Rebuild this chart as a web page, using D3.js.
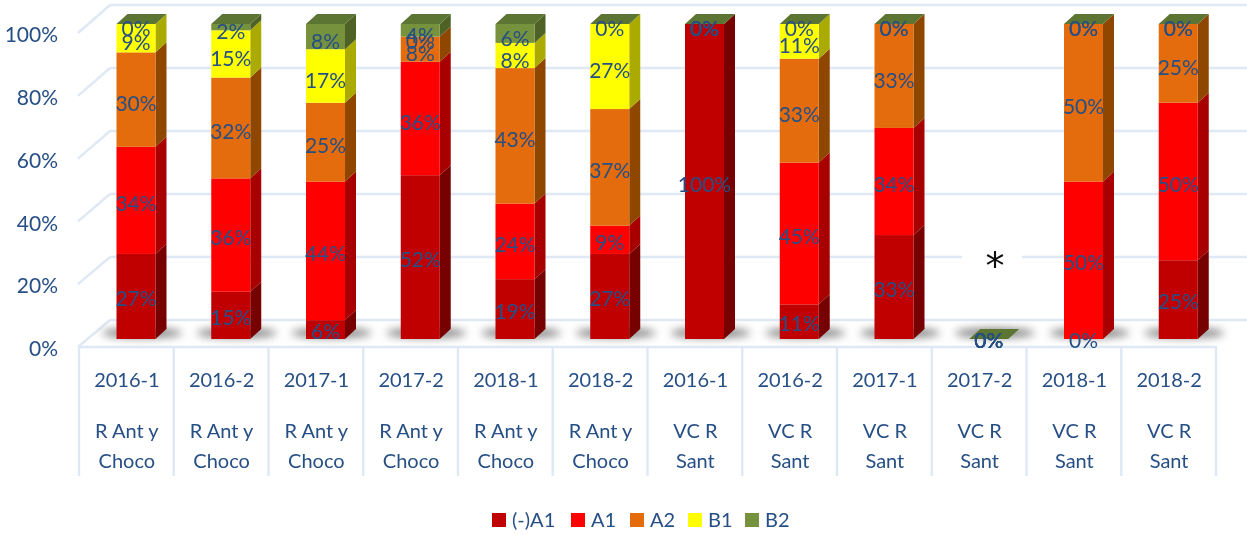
<!DOCTYPE html>
<html><head><meta charset="utf-8">
<script src="https://cdn.jsdelivr.net/npm/d3@7"></script>
<style>html,body{margin:0;background:#fff}svg{display:block}text{font-family:Lato,"Open Sans",sans-serif;fill:#264f85}</style>
</head><body><svg id="c" width="1247" height="535"></svg>
<script>
const periods=["2016-1","2016-2","2017-1","2017-2","2018-1","2018-2","2016-1","2016-2","2017-1","2017-2","2018-1","2018-2"];
const groups=["R Ant y|Choco","R Ant y|Choco","R Ant y|Choco","R Ant y|Choco","R Ant y|Choco","R Ant y|Choco","VC R|Sant","VC R|Sant","VC R|Sant","VC R|Sant","VC R|Sant","VC R|Sant"];
const seriesNames=["(-)A1","A1","A2","B1","B2"];
const negA1=[27,15,6,52,19,27,100,11,33,0,0,25];
const A1=[34,36,44,36,24,9,0,45,34,0,50,50];
const A2=[30,32,25,8,43,37,0,33,33,0,50,25];
const B1=[9,15,17,0,8,27,0,11,0,0,0,0];
const B2=[0,2,8,4,6,0,0,0,0,0,0,0];
const frontColors=["#c00000","#ff0000","#e46c0a","#ffff00","#76923c"];
const sideColors=["#770000","#a80000","#8f4606","#aaaa00","#4f6228"];
const topColor="#5c7431";
const yTicks=[0,20,40,60,80,100];

const svg=d3.select("#c");
const defs=svg.append("defs");
defs.append("filter").attr("id","soft").attr("filterUnits","userSpaceOnUse").attr("x",0).attr("y",0).attr("width",1247).attr("height",535)
  .append("feGaussianBlur").attr("stdDeviation",0.6);
defs.append("filter").attr("id","shade").attr("filterUnits","userSpaceOnUse").attr("x",0).attr("y",300).attr("width",1247).attr("height",70)
  .append("feGaussianBlur").attr("stdDeviation",4);
const root=svg.append("g").attr("filter","url(#soft)");

const idx=periods.map((_,i)=>i);
const x=d3.scaleBand().domain(idx).range([79,1216]);
const yAxisScale=d3.scaleLinear().domain([0,100]).range([347,33]);
const yBar=d3.scaleLinear().domain([0,100]).range([339,24]);
const yBack=d3.scaleLinear().domain([0,100]).range([320,5]);
const yLabel=d3.scaleLinear().domain([0,100]).range([343,31]);
const barW=39,dx=11,dy=10,barOff=37.5;
const grid="#dfe8f5";

// walls
const g=root.append("g").attr("fill","none").attr("stroke",grid).attr("stroke-width",2.4);
yTicks.forEach(t=>{
  g.append("line").attr("x1",110).attr("x2",1247).attr("y1",yBack(t)).attr("y2",yBack(t));
  g.append("line").attr("x1",78).attr("x2",110).attr("y1",yAxisScale(t)).attr("y2",yBack(t));
});
g.append("line").attr("x1",79).attr("x2",1217).attr("y1",347).attr("y2",347);
idx.concat([12]).forEach(i=>{
  const px=i<12?x(i):x.range()[1];
  g.append("line").attr("x1",px).attr("x2",px).attr("y1",347).attr("y2",476);
});

// y axis
const axis=d3.axisLeft(yAxisScale).tickValues(yTicks).tickFormat(d=>d+"%").tickSize(0).tickPadding(0);
const ax=root.append("g").attr("transform","translate(58,2)").call(axis);
ax.select(".domain").remove();
ax.selectAll("text").style("font-size","21px").style("font-family",'Lato,"Open Sans",sans-serif');

// floor shadows
root.append("g").attr("filter","url(#shade)").selectAll("ellipse").data(idx).join("ellipse")
  .attr("cx",i=>x(i)+barOff+barW/2+6).attr("cy",333).attr("rx",40).attr("ry",5)
  .attr("fill","#808080");

// asterisk mask
root.append("rect").attr("x",962).attr("y",250).attr("width",60).attr("height",20).attr("fill","#fff");

// bars
const rows=idx.map(i=>({i,"(-)A1":negA1[i],"A1":A1[i],"A2":A2[i],"B1":B1[i],"B2":B2[i]}));
const stacked=d3.stack().keys(seriesNames)(rows);
const bars=root.append("g");
stacked.forEach((s,k)=>{
  const sg=bars.append("g");
  sg.selectAll("path").data(s.filter(d=>d[1]>d[0])).join("path")
    .attr("d",d=>{const l=x(d.data.i)+barOff+barW,a=yBar(d[1]),b=yBar(d[0]);
      return `M${l},${a}L${l+dx},${a-dy}L${l+dx},${b-dy}L${l},${b}Z`;})
    .attr("fill",sideColors[k]);
  sg.selectAll("rect").data(s.filter(d=>d[1]>d[0])).join("rect")
    .attr("x",d=>x(d.data.i)+barOff).attr("width",barW)
    .attr("y",d=>yBar(d[1])).attr("height",d=>yBar(d[0])-yBar(d[1]))
    .attr("fill",frontColors[k]);
});
const last=stacked[stacked.length-1];
bars.append("g").selectAll("path").data(last).join("path")
  .attr("d",d=>{const l=x(d.data.i)+barOff,a=yBar(d[1]);
    return `M${l},${a}L${l+dx},${a-dy}L${l+barW+dx},${a-dy}L${l+barW},${a}Z`;})
  .attr("fill",topColor);

// value labels
stacked.forEach(s=>{
  root.append("g").selectAll("text").data(s).join("text")
    .attr("x",d=>x(d.data.i)+barOff+barW/2)
    .attr("y",d=>yLabel((d[0]+d[1])/2))
    .attr("text-anchor","middle").attr("dominant-baseline","middle")
    .style("font-size","21px")
    .text(d=>(d[1]-d[0])+"%");
});

root.append("text").attr("x",995).attr("y",279).attr("text-anchor","middle")
  .style("fill","#111").style("font-size","38px").style("font-family","'DejaVu Sans'").text("*");

// category labels
const cat=root.append("g").attr("text-anchor","middle").style("font-size","20px");
idx.forEach(i=>{
  const cx=x(i)+x.bandwidth()/2+0.5;
  const [a,b]=groups[i].split("|");
  cat.append("text").attr("x",cx).attr("y",382).attr("dominant-baseline","middle").text(periods[i]);
  cat.append("text").attr("x",cx).attr("y",433).attr("dominant-baseline","middle").text(a);
  cat.append("text").attr("x",cx).attr("y",463).attr("dominant-baseline","middle").text(b);
});

// legend
const legendX=d3.scaleOrdinal().domain(seriesNames).range([492,571,630,688,745]);
const lg=root.append("g").selectAll("g").data(seriesNames).join("g")
  .attr("transform",d=>`translate(${legendX(d)},513)`);
lg.append("rect").attr("width",14).attr("height",14).attr("fill",(d,i)=>frontColors[i]);
lg.append("text").attr("x",20).attr("y",9).attr("dominant-baseline","middle").style("font-size","20px").text(d=>d);
</script></body></html>
